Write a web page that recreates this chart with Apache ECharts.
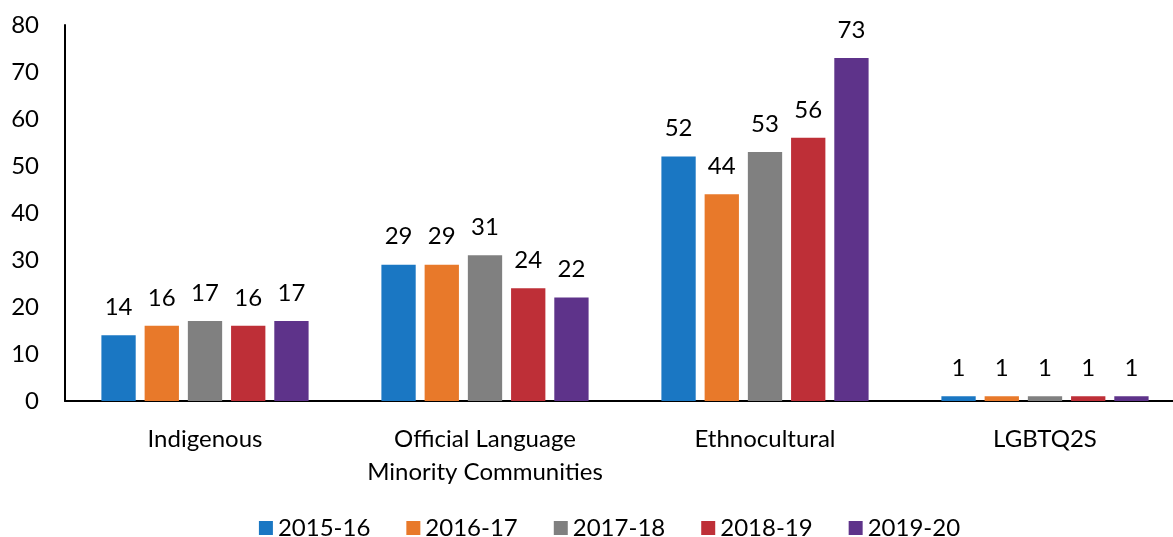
<!DOCTYPE html>
<html><head><meta charset="utf-8">
<script src="https://cdn.jsdelivr.net/npm/echarts@6/dist/echarts.min.js"></script>
<style>html,body{margin:0;padding:0;background:#fff;overflow:hidden;width:1173px;height:537px}#c{width:1219px;height:537px}</style>
</head><body><div id="c"></div>
<script>
const categories = ['Indigenous', 'Official Language\nMinority Communities', 'Ethnocultural', 'LGBTQ2S'];
const seriesNames = ['2015-16', '2016-17', '2017-18', '2018-19', '2019-20'];
const v2015 = [14, 29, 52, 1];
const v2016 = [16, 29, 44, 1];
const v2017 = [17, 31, 53, 1];
const v2018 = [16, 24, 56, 1];
const v2019 = [17, 22, 73, 1];
const yTicks = [0, 10, 20, 30, 40, 50, 60, 70, 80];
const colors = ['#1A77C3', '#E8792A', '#808080', '#BE2F37', '#5E338A'];
const values = [v2015, v2016, v2017, v2018, v2019];
const FONT = 'Lato';
const chart = echarts.init(document.getElementById('c'));
chart.setOption({
  animation: false,
  textStyle: {fontFamily: FONT},
  grid: {left: 65, right: 34, top: 25, height: 376},
  legend: {
    top: 511, left: 'center', itemWidth: 14, itemHeight: 14, itemGap: 36, itemTextGap: 10,
    icon: 'rect',
    textStyle: {fontSize: 24, color: '#000', fontFamily: FONT},
    data: seriesNames
  },
  xAxis: {
    type: 'category', data: categories,
    axisLine: {lineStyle: {color: '#000', width: 2}},
    axisTick: {show: false},
    axisLabel: {interval: 0, fontSize: 24, color: '#000', margin: 22, lineHeight: 33, fontFamily: FONT}
  },
  yAxis: {
    type: 'value', min: yTicks[0], max: yTicks[yTicks.length-1], interval: 10,
    axisLine: {show: true, lineStyle: {color: '#000', width: 2}},
    splitLine: {show: false},
    axisTick: {show: false},
    axisLabel: {fontSize: 24, color: '#000', margin: 26, fontFamily: FONT}
  },
  series: seriesNames.map((n, i) => ({
    name: n, type: 'bar', data: values[i],
    itemStyle: {color: colors[i]},
    barGap: '26%', barCategoryGap: '26%',
    label: {show: true, position: 'top', distance: 16, fontSize: 24, color: '#000', fontFamily: FONT}
  }))
});
</script></body></html>
